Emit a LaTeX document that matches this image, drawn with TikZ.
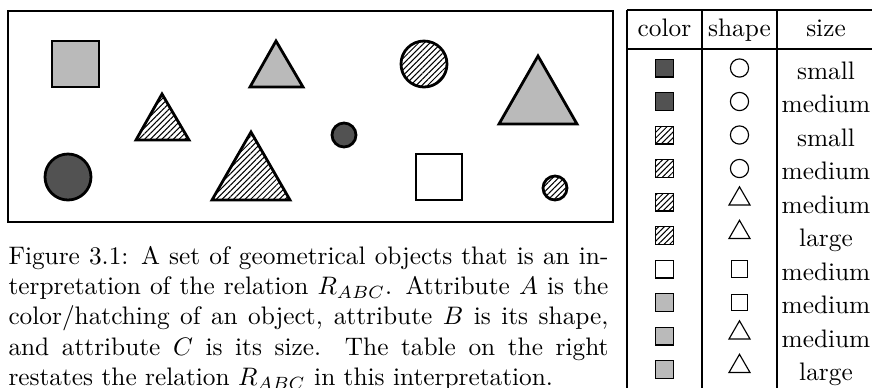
\documentclass[tikz,border=0pt]{standalone}
\usepackage{amsmath,amssymb}
\usetikzlibrary{patterns.meta,shapes.geometric}

\begin{document}
\begin{tikzpicture}[
  x=0.395pt, y=-0.395pt,
  obj/.style={draw, line width=1.1pt, line join=miter},
  dark/.style={fill=black!68},
  light/.style={fill=black!27},
  hatch/.style={pattern={Lines[angle=45,distance=1.6pt,line width=0.4pt]}},
  blank/.style={fill=white},
  swatch/.style={draw, line width=0.4pt, minimum size=7.1pt, inner sep=0pt},
  symc/.style={draw, circle, line width=0.45pt, minimum size=7.2pt, inner sep=0pt},
  syms/.style={draw, rectangle, line width=0.45pt, minimum size=6.6pt, inner sep=0pt},
  symt/.style={draw, regular polygon, regular polygon sides=3, line width=0.45pt, minimum size=9.6pt, inner sep=0pt, yshift=1.2pt},
  rule/.style={line width=0.8pt},
]
\useasboundingbox (0,0) rectangle (872,387);

% the objects
\draw[obj] (8,11) rectangle (613,222);
\draw[obj, light] (52,41) rectangle (99,87);
\draw[obj, light] (276,41) -- (303,87) -- (250,87) -- cycle;
\draw[obj, hatch] (424,64) circle[radius=23];
\draw[obj, light] (538,56) -- (577,124) -- (499,124) -- cycle;
\draw[obj, hatch] (162,94) -- (189,140) -- (136,140) -- cycle;
\draw[obj, dark] (344,135) circle[radius=12];
\draw[obj, dark] (68,177) circle[radius=23];
\draw[obj, hatch] (251,132) -- (290,200) -- (212,200) -- cycle;
\draw[obj, blank] (416,154) rectangle (462,200);
\draw[obj, hatch] (555,188) circle[radius=12];

% caption
\node[anchor=base west, inner sep=0pt, text width=237pt, align=justify] (cap) at (8,264)
  {Figure 3.1: A set of geometrical objects that is an in-\linebreak
   terpretation of the relation $R_{ABC}$. Attribute $A$ is the\linebreak
   color/hatching of an object, attribute $B$ is its shape,\linebreak
   and attribute $C$ is its size. The table on the right\linebreak
   restates the relation $R_{ABC}$ in this interpretation.};

% the table
\draw[rule] (627,10) -- (880,10);
\draw[rule] (627,49) -- (880,49);
\draw[rule] (627,10) -- (627,395);
\draw[rule] (702,10) -- (702,395);
\draw[rule] (777,10) -- (777,395);
\node[anchor=base] (hcol) at (664.5,36) {color};
\node[anchor=base] (hshp) at (739.5,36) {shape};
\node[anchor=base] (hsz) at (826,36) {size};
\foreach \col/\shp/\sz [count=\i from 0] in {dark/symc/small, dark/symc/medium,
    hatch/symc/small, hatch/symc/medium, hatch/symt/medium, hatch/symt/large,
    blank/syms/medium, light/syms/medium, light/symt/medium, light/symt/large}{
  \node[swatch, \col] (c\i) at (664.5,{68+33.5*\i}) {};
  \node[\shp] (s\i) at (739.5,{68+33.5*\i}) {};
  \node[anchor=base] (z\i) at (826,{79+33.5*\i}) {\sz};
}
\end{tikzpicture}
\end{document}
